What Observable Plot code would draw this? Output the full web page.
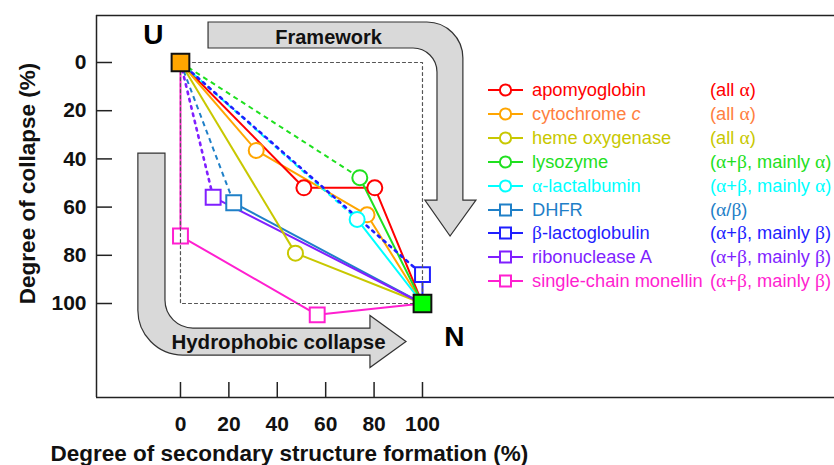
<!DOCTYPE html>
<html><head><meta charset="utf-8">
<script src="https://cdn.jsdelivr.net/npm/d3@7"></script>
<script src="https://cdn.jsdelivr.net/npm/@observablehq/plot@0.6"></script>
<style>
body{margin:0;background:#fff;overflow:hidden}
#wrap{position:relative;width:834px;height:465px;overflow:hidden;font-family:"Liberation Sans",Arial,sans-serif}
#wrap svg{display:block}
.row{position:absolute;left:488px;height:24px;line-height:24px;white-space:nowrap;font-size:18.3px}
.row svg{position:absolute;left:0;top:4px}
.nm{position:absolute;left:44px}
.ty{position:absolute;left:222px}
.g{font-family:"Liberation Serif","Times New Roman",serif;font-size:19.5px}
</style></head><body><div id="wrap"></div>
<script>
// ---- data ----
const proteins = ["apomyoglobin","cytochrome c","heme oxygenase","lysozyme","α-lactalbumin","DHFR","β-lactoglobulin","ribonuclease A","single-chain monellin"];
const foldTypes = ["(all α)","(all α)","(all α)","(α+β, mainly α)","(α+β, mainly α)","(α/β)","(α+β, mainly β)","(α+β, mainly β)","(α+β, mainly β)"];
const lineColors = ["#ff0000","#ffa500","#c8c800","#1fe01f","#00ffff","#1f80c8","#1f1fff","#801fff","#ff1fd0"];
const textColors = ["#ff0000","#ff7f40","#c8c800","#1fe01f","#00ffff","#1f80c8","#1f1fff","#801fff","#ff1fd0"];
const symbols = ["circle","circle","circle","circle","circle","square","square","square","square"];
const firstStep = ["solid","solid","solid","dashed","dashed","dashed","dotted","dotted","solid"];
const intermediateX = [[51,80.3],[31.3,77.1],[47.5],[74.1],[73],[22],[100],[13.5],[0,56.5]];
const intermediateY = [[52,52],[36.5,63.2],[79.1],[47.8],[65.1],[58.2],[88],[55.9],[72,104.7]];
const unfoldedState = {x:0, y:0, label:"U"};
const nativeState = {x:100, y:100, label:"N"};
const xTicks = [0,20,40,60,80,100];
const yTicks = [0,20,40,60,80,100];
const refBoxX = [0,100,100,0,0];
const refBoxY = [0,0,100,100,0];
const xTitle = "Degree of secondary structure formation (%)";
const yTitle = "Degree of collapse (%)";
const arrowLabels = ["Framework","Hydrophobic collapse"];

// ---- scales config ----
const X0 = -34.7, X1 = 270.25, Y0 = -19.5, Y1 = 139;
const pxX = 2.42, pxY = 2.41;

const dashes = {solid:null, dashed:"5,4", dotted:"2.5,5"};
const marks = [];

// arrows (annotation shapes, in data coordinates, arcs with pixel radius)
const frameworkPath = [["M",11.6,-16.6],["L",102,-16.6],["A",36,1,116.9,-1.7],["L",116.9,57.3],["L",122.3,57.3],["L",111.6,72.2],["L",101.2,57.3],["L",106.2,57.3],["L",106.2,4.1],["A",24,0,96.3,-5.8],["L",11.6,-5.8],["Z"]];
const collapsePath = [["M",-17.4,37.8],["L",-6.2,37.8],["L",-6.2,98.8],["A",28,0,5.4,110.4],["L",78.5,110.4],["L",78.5,105.2],["L",93.4,116],["L",78.5,126.8],["L",78.5,121.6],["L",1.2,121.6],["A",45,1,-17.4,102.5],["Z"]];
function arrowMark(path){
  return (index, scales) => {
    const d = path.map(c => {
      if (c[0]==="Z") return "Z";
      if (c[0]==="A") return `A${c[1]},${c[1]} 0 0 ${c[2]} ${scales.x(c[3])},${scales.y(c[4])}`;
      return `${c[0]}${scales.x(c[1])},${scales.y(c[2])}`;
    }).join(" ");
    const p = document.createElementNS("http://www.w3.org/2000/svg","path");
    p.setAttribute("d", d);
    p.setAttribute("fill", "#d9d9d9");
    p.setAttribute("stroke", "#333");
    p.setAttribute("stroke-width", "1.2");
    return p;
  };
}
marks.push(arrowMark(frameworkPath), arrowMark(collapsePath));

// frame
marks.push(
  Plot.ruleY([Y0], {stroke:"#222", strokeWidth:1.5}),
  Plot.ruleY([Y1], {stroke:"#222", strokeWidth:1.5}),
  Plot.ruleX([X0], {stroke:"#222", strokeWidth:1.5}),
  Plot.ruleX(xTicks, {x:d=>d, y1:Y1-15/pxY, y2:Y1, stroke:"#222", strokeWidth:1.5}),
  Plot.ruleY(yTicks, {y:d=>d, x1:X0, x2:X0+16/pxX, stroke:"#222", strokeWidth:1.5})
);

// lines
proteins.forEach((name,i) => {
  const pts = [unfoldedState, ...intermediateX[i].map((x,j)=>({x, y:intermediateY[i][j]})), nativeState];
  marks.push(Plot.line(pts.slice(1), {x:"x", y:"y", stroke:lineColors[i], strokeWidth:2}));
});
proteins.forEach((name,i) => {
  const pts = [unfoldedState, {x:intermediateX[i][0], y:intermediateY[i][0]}];
  marks.push(Plot.line(pts, {x:"x", y:"y", stroke:lineColors[i], strokeWidth: firstStep[i]==="dotted"?2.6:2,
    strokeDasharray:dashes[firstStep[i]], strokeLinecap: firstStep[i]==="dotted"?"round":"butt"}));
});
// markers
proteins.forEach((name,i) => {
  const pts = intermediateX[i].map((x,j)=>({x, y:intermediateY[i][j]}));
  marks.push(Plot.dot(pts, {x:"x", y:"y", symbol:symbols[i], r: symbols[i]==="circle"?7.5:8.4,
    fill:"white", stroke:lineColors[i], strokeWidth:2}));
});
// reference box
marks.push(Plot.line(refBoxX.map((x,i)=>({x, y:refBoxY[i]})), {x:"x", y:"y", stroke:"#555", strokeWidth:1.2, strokeDasharray:"3,3"}));
// U and N
marks.push(
  Plot.dot([unfoldedState], {x:"x", y:"y", symbol:"square", r:10, fill:"#ffa500", stroke:"#111", strokeWidth:2}),
  Plot.dot([nativeState], {x:"x", y:"y", symbol:"square", r:10, fill:"#00ff00", stroke:"#111", strokeWidth:2}),
  Plot.text([unfoldedState], {x:"x", y:"y", text:"label", dx:-27, dy:-27, fontSize:28, fontWeight:"bold", fill:"#000"}),
  Plot.text([nativeState], {x:"x", y:"y", text:"label", dx:32, dy:34, fontSize:28, fontWeight:"bold", fill:"#000"})
);
// arrow labels
marks.push(
  Plot.text([arrowLabels[0]], {x:61.2, y:-10.4, text:d=>d, fontSize:20, fontWeight:"bold", fill:"#111"}),
  Plot.text([arrowLabels[1]], {x:40.5, y:116.2, text:d=>d, fontSize:20.5, fontWeight:"bold", fill:"#111"})
);
// tick labels
marks.push(
  Plot.text(xTicks, {x:d=>d, y:Y1, dy:27, text:d=>String(d), fontSize:21, fontWeight:"bold", fill:"#111"}),
  Plot.text(yTicks, {x:X0, y:d=>d, dx:-10, text:d=>String(d), textAnchor:"end", fontSize:21, fontWeight:"bold", fill:"#111"}),
  Plot.text([xTitle], {x:45, y:Y1, dy:56, text:d=>d, fontSize:22.5, fontWeight:"bold", fill:"#111"}),
  Plot.text([yTitle], {x:X0, y:50.2, dx:-69, rotate:-90, text:d=>d, fontSize:22.5, fontWeight:"bold", fill:"#111"})
);

const chart = Plot.plot({
  width:834, height:465,
  marginLeft:96, marginRight:0, marginTop:15, marginBottom:68,
  style:{fontFamily:"'Liberation Sans', Arial, sans-serif", background:"white", overflow:"hidden"},
  x:{domain:[X0,X1], axis:null},
  y:{domain:[Y0,Y1], reverse:true, axis:null},
  marks
});
const wrap = document.getElementById("wrap");
wrap.appendChild(chart);

// legend
function greek(s){ return s.replace(/([αβ])/g,'<span class="g">$1</span>'); }
proteins.forEach((name,i) => {
  const row = document.createElement("div");
  row.className = "row";
  row.style.top = (78 + i*23.9) + "px";
  row.style.color = textColors[i];
  const c = lineColors[i];
  const marker = symbols[i]==="circle"
    ? `<circle cx="17.5" cy="8" r="5.6" fill="white" stroke="${c}" stroke-width="2"/>`
    : `<rect x="12" y="2.5" width="11" height="11" fill="white" stroke="${c}" stroke-width="2"/>`;
  let label = greek(name);
  if (name === "cytochrome c") label = 'cytochrome <i>c</i>';
  row.innerHTML = `<svg width="36" height="16"><line x1="0" x2="35" y1="8" y2="8" stroke="${c}" stroke-width="2"/>${marker}</svg>`
    + `<span class="nm">${label}</span><span class="ty">${greek(foldTypes[i])}</span>`;
  wrap.appendChild(row);
});
</script></body></html>
